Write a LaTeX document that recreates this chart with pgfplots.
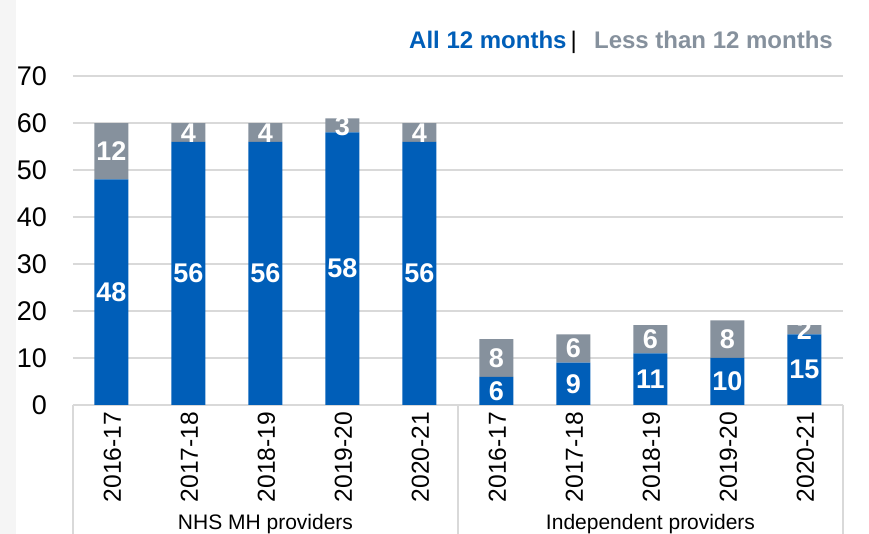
\documentclass[border=0pt]{standalone}
\usepackage{pgfplots}
\pgfplotsset{compat=1.18}
\usepackage{fontspec}
\setmainfont{Liberation Sans}

\definecolor{nhsblue}{RGB}{0,94,184}
\definecolor{lessgrey}{RGB}{134,145,157}
\definecolor{gridgrey}{RGB}{217,217,217}
\definecolor{edgegrey}{RGB}{245,245,245}

\begin{document}
\begin{tikzpicture}
% faint strip at the left edge of the picture
\fill[edgegrey] (-36.5pt,-64.5pt) rectangle (-28.5pt,202.5pt);

% stacked bars
\begin{axis}[
    name=main,
    at={(0,0)}, anchor=south west,
    scale only axis,
    width=385pt, height=164.5pt,
    xmin=-0.5, xmax=9.5, ymin=0, ymax=70,
    ybar stacked, bar width=17pt,
    ytick={0,10,...,70},
    xtick={0,...,9},
    xticklabels={2016-17,2017-18,2018-19,2019-20,2020-21,2016-17,2017-18,2018-19,2019-20,2020-21},
    xticklabel style={rotate=90, anchor=east, yshift=-0.5pt, font=\fontsize{12.3}{14}\selectfont},
    yticklabel style={xshift=-9.5pt, font=\fontsize{13.5}{15}\selectfont},
    /pgf/number format/assume math mode=true,
    major tick length=0pt,
    ymajorgrids, grid style={gridgrey, line width=0.75pt},
    axis x line*=bottom, axis y line*=left,
    y axis line style={draw=none},
    x axis line style={gridgrey, line width=1pt},
    clip=false,
]
\addplot[fill=nhsblue, draw=none] coordinates {
    (0,48) (1,56) (2,56) (3,58) (4,56)
    (5,6) (6,9) (7,11) (8,10) (9,15)
};
\addplot[fill=lessgrey, draw=none] coordinates {
    (0,12) (1,4) (2,4) (3,3) (4,4)
    (5,8) (6,6) (7,6) (8,8) (9,2)
};

% group separators and labels under the axis
\draw[gridgrey, line width=1pt] (axis cs:-0.5,0) -- (axis cs:-0.5,-30);
\draw[gridgrey, line width=1pt] (axis cs:4.5,0) -- (axis cs:4.5,-30);
\draw[gridgrey, line width=1pt] (axis cs:9.5,0) -- (axis cs:9.5,-30);
\node[font=\fontsize{10.5}{12}\selectfont] at (axis cs:2,-25.4) {NHS MH providers};
\node[font=\fontsize{10.5}{12}\selectfont] at (axis cs:7,-25.4) {Independent providers};

% legend as text
\node[anchor=base east, font=\bfseries\fontsize{12}{14}\selectfont] at (axis cs:9.46,75.96)
    {\textcolor{nhsblue}{All 12 months}{\mdseries\,|\ \ \,}\textcolor{lessgrey}{Less than 12 months}};
\end{axis}

% value labels, centred in each segment
\begin{axis}[
    at={(main.south west)}, anchor=south west,
    scale only axis,
    width=385pt, height=164.5pt,
    xmin=-0.5, xmax=9.5, ymin=0, ymax=70,
    hide axis, clip=false,
    nodes near coords, point meta=explicit symbolic,
    every node near coord/.append style={anchor=center, text=white,
        font=\bfseries\fontsize{13.5}{15}\selectfont},
]
\addplot[draw=none, mark=none] coordinates {
    (0,24)[48] (1,28)[56] (2,28)[56] (3,29)[58] (4,28)[56]
    (5,3)[6] (6,4.5)[9] (7,5.5)[11] (8,5)[10] (9,7.5)[15]
};
\addplot[draw=none, mark=none] coordinates {
    (0,54)[12] (1,57.8)[4] (2,57.8)[4] (3,59.3)[3] (4,57.8)[4]
    (5,10)[8] (6,12)[6] (7,14)[6] (8,14)[8] (9,16)[2]
};
\end{axis}
\pgfresetboundingbox
\path (-36.5pt,-64.5pt) rectangle (398pt,202.5pt);
\end{tikzpicture}
\end{document}
